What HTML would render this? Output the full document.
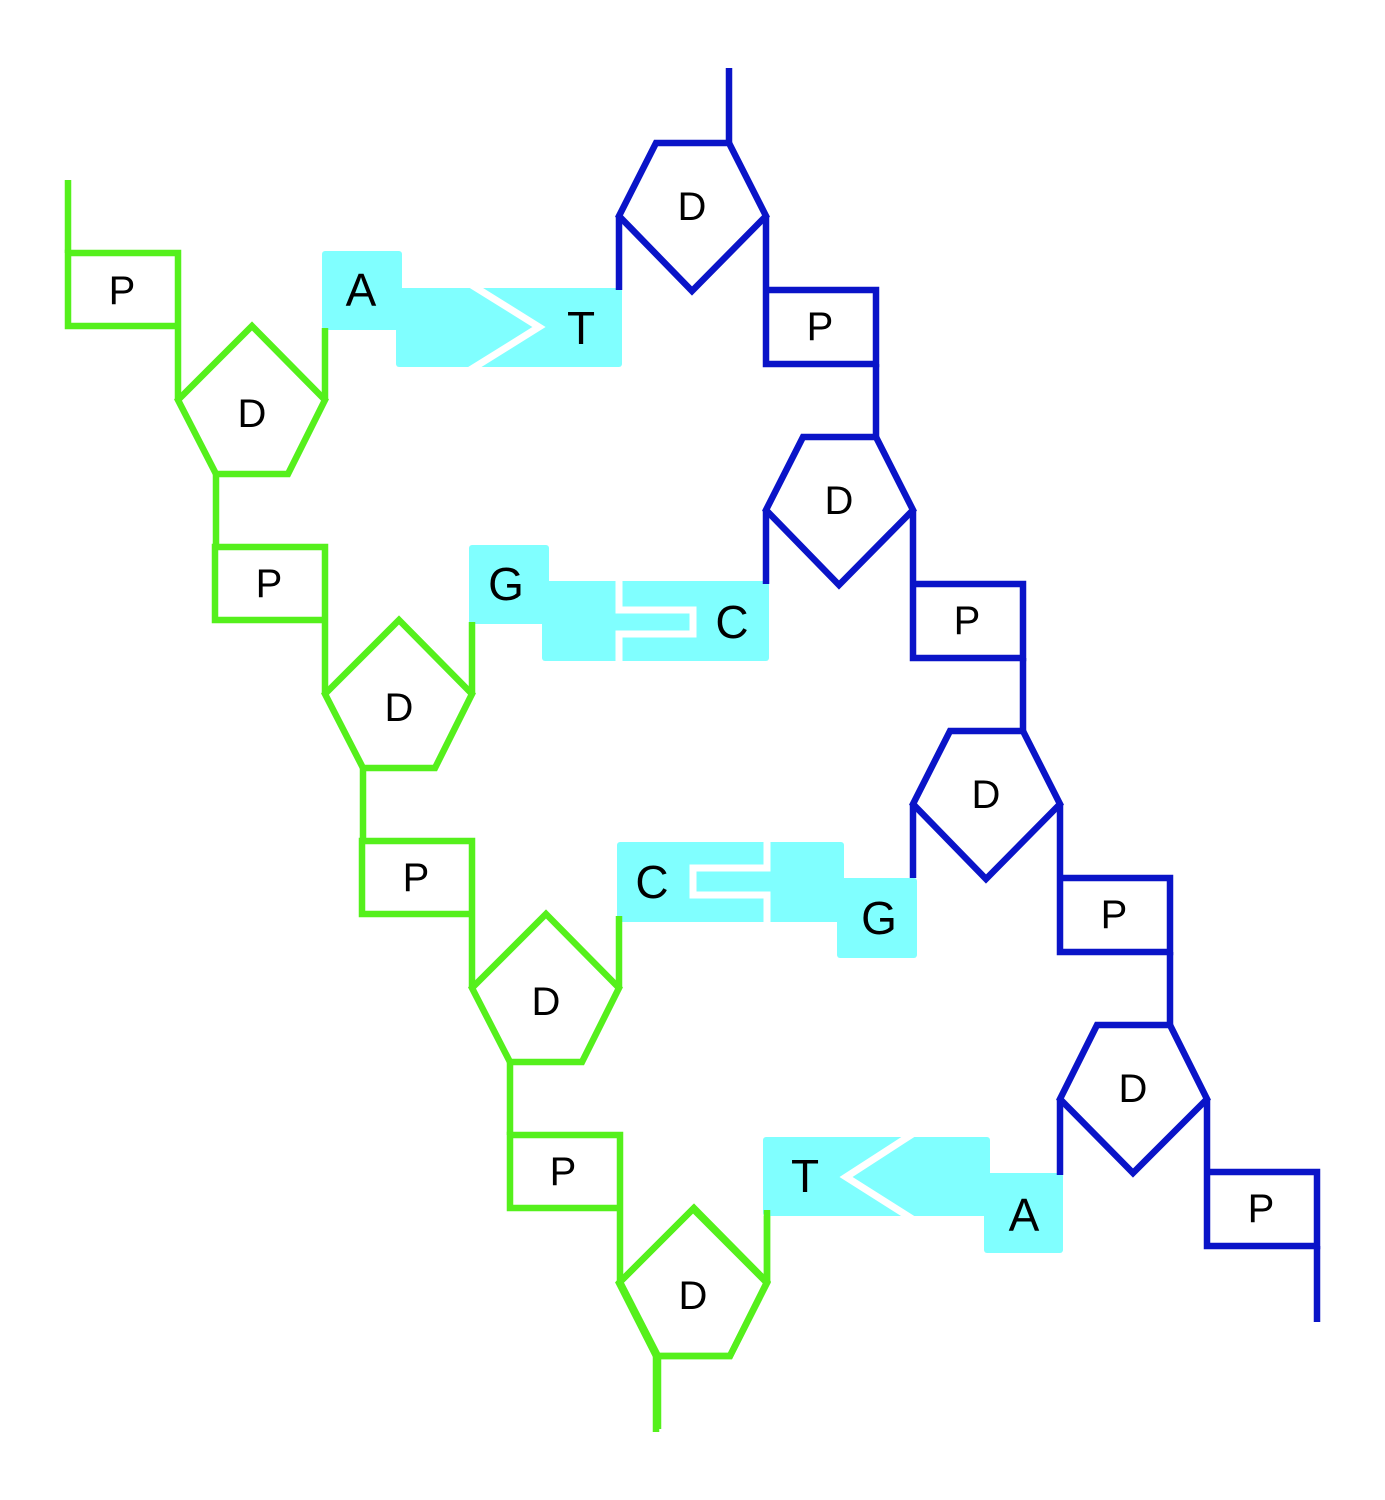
<!DOCTYPE html>
<html><head><meta charset="utf-8"><style>
html,body{margin:0;padding:0;background:#fff;}
svg{display:block;}
text{font-family:"Liberation Sans",Arial,sans-serif;fill:#000;text-anchor:middle;dominant-baseline:central;}
.s{font-size:40px;}
.b{font-size:46px;}
</style></head><body>
<svg width="1385" height="1500" viewBox="0 0 1385 1500" xmlns="http://www.w3.org/2000/svg">
<defs>
<g id="gu" fill="none" stroke="#55f01c" stroke-width="6.5" stroke-linejoin="miter" stroke-linecap="butt">
  <polyline points="178,326 68,326 68,253 178,253 178,400"/>
  <polygon points="252,326 325,400 288,474 216,474 178,400"/>
  <line x1="216" y1="474" x2="216" y2="547"/>
  <line x1="325" y1="400" x2="325" y2="328"/>
</g>
<g id="bu" fill="none" stroke="#0a14c8" stroke-width="6.5" stroke-linejoin="miter">
  <polygon points="656,143 729,143 766,216 692,291 619,216"/>
  <polyline points="766,216 766,364 876,364 876,290 766,290"/>
  <line x1="876" y1="364" x2="876" y2="437"/>
  <line x1="619" y1="216" x2="619" y2="290"/>
</g>
</defs>

<g fill="#80ffff">
  <rect x="322" y="251" width="80" height="79" rx="3"/>
  <rect x="396" y="288" width="226" height="79" rx="3"/>
  <rect x="469" y="545" width="80" height="79" rx="3"/>
  <rect x="542" y="581" width="227" height="80" rx="3"/>
  <rect x="617" y="842" width="227" height="80" rx="3"/>
  <rect x="837" y="878" width="80" height="80" rx="3"/>
  <rect x="763" y="1137" width="227" height="79" rx="3"/>
  <rect x="984" y="1173" width="79" height="80" rx="3"/>
</g>
<g fill="none" stroke="#fff" stroke-width="7">
  <polyline points="470,284 539,327 470,370"/>
  <polyline points="619,578 619,610 693,610 693,634 619,634 619,664"/>
  <polyline points="767,839 767,868 693,868 693,895 767,895 767,925"/>
  <polyline points="914,1133 846,1177 914,1220"/>
</g>

<line x1="68" y1="180" x2="68" y2="253" stroke="#55f01c" stroke-width="6.5"/>
<use href="#gu"/>
<use href="#gu" transform="translate(147,294)"/>
<use href="#gu" transform="translate(294,588)"/>
<use href="#gu" transform="translate(442,882)"/>
<g fill="none" stroke="#55f01c" stroke-width="6.5">
  <polygon points="693,1209 767,1283 730,1356 656,1356 619,1283"/>
  <line x1="656" y1="1356" x2="656" y2="1432"/>
  <line x1="767" y1="1283" x2="767" y2="1216"/>
</g>

<line x1="729" y1="68" x2="729" y2="143" stroke="#0a14c8" stroke-width="6.5"/>
<use href="#bu"/>
<use href="#bu" transform="translate(147,294)"/>
<use href="#bu" transform="translate(294,588)"/>
<g fill="none" stroke="#0a14c8" stroke-width="6.5">
  <polygon points="1097,1025 1170,1025 1207,1099 1133,1173 1060,1099"/>
  <polyline points="1207,1099 1207,1246 1317,1246 1317,1172 1207,1172"/>
  <line x1="1317" y1="1246" x2="1317" y2="1322"/>
  <line x1="1060" y1="1099" x2="1060" y2="1175"/>
</g>

<g class="s">
  <text x="122" y="291">P</text>
  <text x="269" y="584">P</text>
  <text x="416" y="878">P</text>
  <text x="563" y="1172">P</text>
  <text x="252" y="414">D</text>
  <text x="399" y="708">D</text>
  <text x="546" y="1002">D</text>
  <text x="693" y="1296">D</text>
  <text x="692" y="207">D</text>
  <text x="839" y="501">D</text>
  <text x="986" y="795">D</text>
  <text x="1133" y="1089">D</text>
  <text x="820" y="327">P</text>
  <text x="967" y="621">P</text>
  <text x="1114" y="915">P</text>
  <text x="1261" y="1209">P</text>
</g>
<g class="b">
  <text x="361" y="290">A</text>
  <text x="581" y="328">T</text>
  <text x="506" y="584">G</text>
  <text x="732" y="622">C</text>
  <text x="652" y="882">C</text>
  <text x="879" y="918">G</text>
  <text x="805" y="1176">T</text>
  <text x="1024" y="1215">A</text>
</g>
</svg>
</body></html>
